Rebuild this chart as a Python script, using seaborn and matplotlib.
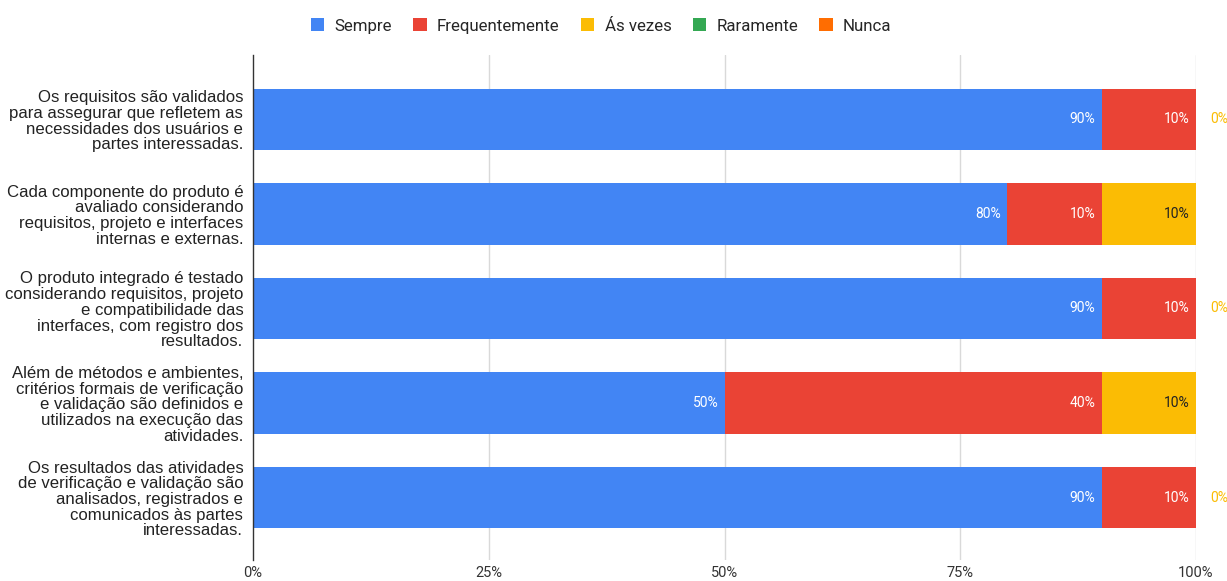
import numpy as np
import pandas as pd
import matplotlib
matplotlib.use("Agg")
import matplotlib.pyplot as plt
import seaborn as sns
from matplotlib.patches import Patch

questions = [
    "Os requisitos são validados\npara assegurar que refletem as\nnecessidades dos usuários e\npartes interessadas.",
    "Cada componente do produto é\navaliado considerando\nrequisitos, projeto e interfaces\ninternas e externas.",
    "O produto integrado é testado\nconsiderando requisitos, projeto\ne compatibilidade das\ninterfaces, com registro dos\nresultados.",
    "Além de métodos e ambientes,\ncritérios formais de verificação\ne validação são definidos e\nutilizados na execução das\natividades.",
    "Os resultados das atividades\nde verificação e validação são\nanalisados, registrados e\ncomunicados às partes\ninteressadas.",
]
series_names = ["Sempre", "Frequentemente", "Ás vezes", "Raramente", "Nunca"]
sempre = [90, 80, 90, 50, 90]
frequentemente = [10, 10, 10, 40, 10]
as_vezes = [0, 10, 0, 10, 0]
raramente = [0, 0, 0, 0, 0]
nunca = [0, 0, 0, 0, 0]
xtick_values = [0, 25, 50, 75, 100]
xtick_labels = ["0%", "25%", "50%", "75%", "100%"]

colors = ["#4285F4", "#EA4335", "#FBBC04", "#34A853", "#FF6D01"]
label_colors = ["white", "white", "#222222", "white", "white"]

sns.set_theme(style="white")
plt.rcParams["font.family"] = ["Roboto", "DejaVu Sans"]

values = np.array([sempre, frequentemente, as_vezes, raramente, nunca], dtype=float)
cum = np.cumsum(values, axis=0)

fig = plt.figure(figsize=(12.27, 5.81), dpi=100)
ax = fig.add_axes([253 / 1227, 21 / 581, (1196 - 253) / 1227, (526 - 21) / 581])

# stacked bars: draw the widest cumulative total first
for i in range(len(series_names) - 1, -1, -1):
    df = pd.DataFrame({"q": questions, "v": cum[i]})
    sns.barplot(data=df, x="v", y="q", color=colors[i], orient="h",
                width=0.65, ax=ax, saturation=1, linewidth=0, zorder=3)

ax.set_xlim(0, 100)
ax.set_ylim(4.66, -0.68)
ax.set_xlabel("")
ax.set_ylabel("")
ax.set_xticks(xtick_values)
ax.set_xticklabels(xtick_labels, fontsize=10.5, color="#333333")
ax.tick_params(axis="x", length=0, pad=4.5)
ax.tick_params(axis="y", length=0, pad=7)
for lbl in ax.get_yticklabels():
    lbl.set_fontfamily(["Liberation Sans", "DejaVu Sans"])
    lbl.set_fontsize(12.1)
    lbl.set_color("#222222")
    lbl.set_linespacing(1.06)
    lbl.set_horizontalalignment("right")

for x in xtick_values[1:]:
    ax.axvline(x, color="#d9d9d9", lw=1, zorder=1)
for s in ["top", "right", "bottom"]:
    ax.spines[s].set_visible(False)
ax.spines["left"].set_color("#333333")
ax.spines["left"].set_linewidth(1)
ax.spines["left"].set_zorder(5)

# segment value labels
for r in range(len(questions)):
    for i in range(3):
        v = values[i, r]
        end = cum[i, r]
        if v > 0:
            ax.annotate(f"{v:.0f}%", (end, r), xytext=(-4.5, 0), textcoords="offset points",
                        ha="right", va="center", fontsize=10, color=label_colors[i], zorder=6)
        elif i == 2:
            ax.annotate(f"{v:.0f}%", (end, r), xytext=(10.3, 0), textcoords="offset points",
                        ha="left", va="center", fontsize=10, color=colors[2],
                        zorder=6, annotation_clip=False)

handles = [Patch(facecolor=c, edgecolor="none") for c in colors]
fig.legend(handles, series_names, loc="center", bbox_to_anchor=(0.49, 0.955),
           ncol=5, frameon=False, fontsize=12.2, handlelength=0.8, handleheight=0.8,
           handletextpad=0.6, columnspacing=1.25)

fig.savefig("out.png", dpi=100)
